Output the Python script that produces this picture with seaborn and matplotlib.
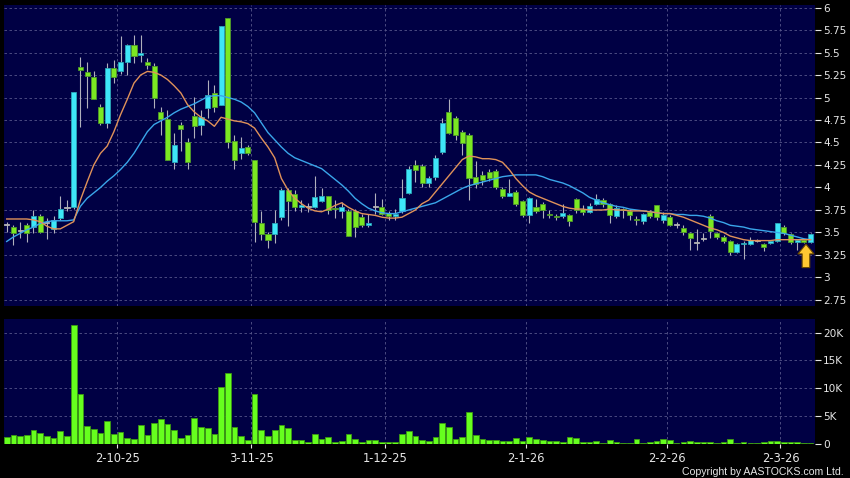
import numpy as np
import pandas as pd
import seaborn as sns
import matplotlib.pyplot as plt
from matplotlib.ticker import FixedLocator, NullLocator

# daily candles (bar index 0 = first session shown)
open_ = [3.58, 3.56, 3.52, 3.58, 3.56, 3.68, 3.60, 3.54, 3.66, 3.77,
         3.78, 5.34, 5.28, 5.23, 4.89, 4.72, 5.33, 5.29, 5.39, 5.58,
         5.47, 5.39, 5.35, 4.84, 4.76, 4.28, 4.69, 4.51, 4.79, 4.69,
         4.88, 5.05, 4.92, 5.88, 4.52, 4.38, 4.45, 4.31, 3.61, 3.48,
         3.48, 3.67, 3.97, 3.93, 3.78, 3.78, 3.78, 3.85, 3.90, 3.77,
         3.74, 3.74, 3.74, 3.67, 3.58, 3.78, 3.78, 3.72, 3.68, 3.74,
         3.94, 4.25, 4.24, 4.05, 4.12, 4.39, 4.84, 4.77, 4.62, 4.58,
         4.12, 4.14, 4.17, 4.18, 3.98, 3.91, 3.95, 3.85, 3.69, 3.78,
         3.82, 3.71, 3.68, 3.68, 3.69, 3.87, 3.76, 3.73, 3.82, 3.86,
         3.82, 3.68, 3.76, 3.74, 3.65, 3.63, 3.73, 3.80, 3.64, 3.67,
         3.58, 3.55, 3.49, 3.38, 3.43, 3.68, 3.49, 3.45, 3.41, 3.28,
         3.37, 3.37, 3.41, 3.37, 3.38, 3.40, 3.56, 3.48, 3.39, 3.42,
         3.39]
high = [3.62, 3.58, 3.62, 3.60, 3.75, 3.71, 3.66, 3.68, 3.90, 3.86,
        5.06, 5.45, 5.40, 5.29, 4.93, 5.38, 5.42, 5.68, 5.60, 5.70,
        5.70, 5.44, 5.38, 4.89, 4.86, 4.60, 4.73, 4.55, 5.01, 4.86,
        5.19, 5.14, 5.80, 5.88, 4.58, 4.56, 4.47, 4.31, 3.74, 3.50,
        3.75, 3.99, 3.99, 3.97, 3.86, 3.83, 4.13, 3.99, 3.91, 3.86,
        3.84, 3.76, 3.76, 3.71, 3.71, 3.94, 3.87, 3.74, 3.76, 4.09,
        4.24, 4.31, 4.26, 4.13, 4.36, 4.77, 4.98, 4.79, 4.64, 4.60,
        4.29, 4.18, 4.20, 4.20, 4.00, 4.09, 3.97, 3.86, 3.89, 3.87,
        3.84, 3.75, 3.70, 3.82, 3.71, 3.88, 3.80, 3.83, 3.93, 3.88,
        3.83, 3.80, 3.77, 3.76, 3.68, 3.72, 3.75, 3.81, 3.73, 3.69,
        3.62, 3.58, 3.50, 3.54, 3.49, 3.70, 3.50, 3.47, 3.42, 3.38,
        3.40, 3.45, 3.43, 3.38, 3.41, 3.61, 3.58, 3.49, 3.43, 3.43,
        3.49]
low = [3.50, 3.36, 3.44, 3.39, 3.49, 3.49, 3.43, 3.49, 3.64, 3.74,
       3.76, 4.67, 4.88, 4.98, 4.70, 4.66, 5.16, 5.26, 5.25, 5.38,
       5.40, 5.32, 4.88, 4.58, 4.30, 4.20, 4.40, 4.21, 4.55, 4.58,
       4.77, 4.84, 4.92, 4.44, 4.21, 4.32, 4.36, 3.39, 3.42, 3.33,
       3.38, 3.64, 3.57, 3.74, 3.73, 3.73, 3.77, 3.84, 3.71, 3.66,
       3.66, 3.46, 3.45, 3.56, 3.56, 3.71, 3.69, 3.64, 3.64, 3.72,
       3.93, 4.06, 4.01, 4.00, 4.08, 4.37, 4.59, 4.53, 4.36, 3.86,
       3.99, 4.03, 4.07, 3.98, 3.88, 3.90, 3.79, 3.67, 3.61, 3.72,
       3.66, 3.66, 3.64, 3.66, 3.57, 3.72, 3.69, 3.72, 3.81, 3.78,
       3.61, 3.66, 3.66, 3.64, 3.58, 3.59, 3.66, 3.64, 3.61, 3.57,
       3.55, 3.47, 3.31, 3.31, 3.41, 3.44, 3.43, 3.38, 3.25, 3.27,
       3.21, 3.36, 3.39, 3.29, 3.37, 3.39, 3.47, 3.37, 3.31, 3.38,
       3.38]
close = [3.58, 3.49, 3.52, 3.49, 3.68, 3.51, 3.60, 3.64, 3.76, 3.77,
         5.06, 5.31, 5.24, 4.98, 4.72, 5.33, 5.23, 5.40, 5.58, 5.46,
         5.49, 5.36, 4.99, 4.76, 4.30, 4.47, 4.65, 4.28, 4.68, 4.78,
         5.03, 4.89, 5.80, 4.51, 4.30, 4.44, 4.38, 3.62, 3.48, 3.42,
         3.60, 3.97, 3.85, 3.78, 3.81, 3.78, 3.89, 3.90, 3.75, 3.76,
         3.78, 3.46, 3.56, 3.58, 3.60, 3.78, 3.71, 3.68, 3.71, 3.88,
         4.21, 4.19, 4.05, 4.11, 4.33, 4.72, 4.61, 4.58, 4.49, 4.11,
         4.04, 4.08, 4.10, 4.00, 3.90, 3.94, 3.82, 3.69, 3.88, 3.74,
         3.75, 3.69, 3.67, 3.72, 3.63, 3.75, 3.73, 3.79, 3.87, 3.82,
         3.69, 3.77, 3.75, 3.69, 3.64, 3.71, 3.68, 3.67, 3.69, 3.58,
         3.58, 3.50, 3.44, 3.38, 3.43, 3.52, 3.45, 3.40, 3.28, 3.37,
         3.38, 3.42, 3.41, 3.34, 3.40, 3.60, 3.49, 3.39, 3.42, 3.39,
         3.48]
volume = [1200, 1560, 1380, 1500, 2460, 1860, 1380, 1020, 2220, 1380,
          21300, 8940, 3240, 2700, 1860, 4020, 1740, 2100, 1020, 840,
          3420, 1620, 3720, 4440, 3480, 2520, 960, 1500, 4620, 3000,
          2880, 1800, 10300, 12700, 2940, 1320, 660, 8940, 2400, 1380,
          2400, 3300, 2880, 660, 660, 360, 1680, 780, 1200, 240,
          540, 1680, 900, 240, 720, 600, 300, 360, 240, 1740,
          2280, 1380, 660, 540, 1200, 3720, 2940, 780, 1260, 5700,
          1500, 780, 720, 660, 480, 480, 1020, 540, 1200, 780,
          600, 480, 420, 300, 1140, 1080, 300, 300, 420, 180,
          600, 240, 120, 180, 900, 180, 360, 420, 780, 600,
          180, 300, 540, 240, 240, 240, 180, 240, 780, 120,
          300, 180, 180, 300, 420, 540, 300, 240, 240, 180,
          180]

# moving averages as drawn on the chart
ma_short = [3.65, 3.65, 3.65, 3.65, 3.64, 3.62, 3.57, 3.54, 3.54, 3.58,
            3.62, 3.86, 4.06, 4.25, 4.38, 4.46, 4.62, 4.81, 4.98, 5.16,
            5.25, 5.29, 5.28, 5.25, 5.20, 5.13, 5.05, 4.92, 4.84, 4.78,
            4.74, 4.68, 4.78, 4.76, 4.74, 4.73, 4.71, 4.66, 4.55, 4.45,
            4.33, 4.10, 3.97, 3.88, 3.82, 3.77, 3.74, 3.73, 3.76, 3.80,
            3.83, 3.78, 3.74, 3.71, 3.70, 3.69, 3.67, 3.66, 3.66, 3.67,
            3.71, 3.75, 3.82, 3.86, 3.95, 4.04, 4.13, 4.22, 4.31, 4.35,
            4.34, 4.32, 4.32, 4.31, 4.28, 4.20, 4.10, 4.02, 3.95, 3.91,
            3.88, 3.85, 3.82, 3.79, 3.77, 3.76, 3.76, 3.75, 3.75, 3.75,
            3.76, 3.75, 3.75, 3.74, 3.74, 3.74, 3.73, 3.72, 3.71, 3.71,
            3.69, 3.67, 3.64, 3.61, 3.58, 3.55, 3.53, 3.50, 3.46, 3.44,
            3.42, 3.41, 3.41, 3.41, 3.41, 3.42, 3.42, 3.42, 3.42, 3.42,
            3.42]
ma_long = [3.40, 3.45, 3.49, 3.53, 3.56, 3.60, 3.62, 3.63, 3.63, 3.63,
           3.64, 3.79, 3.88, 3.94, 4.00, 4.07, 4.13, 4.20, 4.28, 4.38,
           4.50, 4.62, 4.70, 4.74, 4.78, 4.83, 4.87, 4.90, 4.93, 4.97,
           5.01, 5.02, 5.02, 5.00, 4.98, 4.95, 4.90, 4.83, 4.72, 4.61,
           4.53, 4.45, 4.38, 4.33, 4.30, 4.27, 4.24, 4.21, 4.15, 4.09,
           4.03, 3.96, 3.88, 3.82, 3.77, 3.74, 3.72, 3.71, 3.71, 3.73,
           3.75, 3.77, 3.79, 3.81, 3.83, 3.87, 3.91, 3.95, 3.99, 4.02,
           4.04, 4.06, 4.08, 4.10, 4.12, 4.13, 4.14, 4.14, 4.14, 4.14,
           4.12, 4.09, 4.07, 4.05, 4.02, 3.98, 3.94, 3.89, 3.86, 3.83,
           3.81, 3.79, 3.78, 3.76, 3.75, 3.74, 3.73, 3.72, 3.71, 3.71,
           3.70, 3.70, 3.69, 3.69, 3.68, 3.66, 3.63, 3.61, 3.58, 3.57,
           3.56, 3.54, 3.53, 3.52, 3.51, 3.50, 3.49, 3.47, 3.45, 3.43,
           3.42]

date_pos = [16.5, 36.5, 56.5, 77.5, 98.5, 115.5]
date_labels = ["2-10-25", "3-11-25", "1-12-25", "2-1-26", "2-2-26", "2-3-26"]
price_ticks = [2.75, 3, 3.25, 3.5, 3.75, 4, 4.25, 4.5, 4.75, 5, 5.25, 5.5, 5.75, 6]
price_labels = ["2.75", "3", "3.25", "3.5", "3.75", "4", "4.25", "4.5", "4.75",
                "5", "5.25", "5.5", "5.75", "6"]
vol_ticks = [0, 5000, 10000, 15000, 20000]
vol_labels = ["0", "5K", "10K", "15K", "20K"]

df = pd.DataFrame({"idx": np.arange(len(close)), "open": open_, "high": high,
                   "low": low, "close": close, "volume": volume,
                   "ma_short": ma_short, "ma_long": ma_long})

plt.rcParams["font.family"] = ["DejaVu Sans"]
NAVY = "#000044"
GRID = "#56568a"
UP = "#3ee6f8"
DOWN = "#7be822"

fig = plt.figure(figsize=(8.5, 4.78), dpi=100, facecolor="black")
ax1 = fig.add_axes([4 / 850, 1 - 306 / 478, 811 / 850, 301 / 478])
ax2 = fig.add_axes([4 / 850, 1 - 444 / 478, 811 / 850, 125 / 478])

for ax in (ax1, ax2):
    ax.set_facecolor(NAVY)
    for s in ax.spines.values():
        s.set_visible(False)
    ax.set_axisbelow(True)

# --- price panel
ax1.vlines(df["idx"], df["low"], df["high"], color="#b0b0bc", lw=0.8, zorder=2)
body_lo = np.minimum(df["open"], df["close"])
body_h = np.maximum((df["close"] - df["open"]).abs(), 0.012)
flat = (df["close"] - df["open"]).abs() < 0.005
cols = np.where(flat, "#b4b4b4", np.where(df["close"] > df["open"], UP, DOWN))
edges = np.where(flat, "#b4b4b4", np.where(df["close"] > df["open"], "#2aa6b8", "#4f9a2a"))
ax1.bar(df["idx"], body_h, bottom=body_lo, width=0.76, color=cols,
        edgecolor=edges, linewidth=0.6, zorder=3)

sns.lineplot(data=df, x="idx", y="ma_long", color="#3aa6ea", lw=1.0, ax=ax1, zorder=4)
sns.lineplot(data=df, x="idx", y="ma_short", color="#e0925a", lw=1.0, ax=ax1, zorder=4)

ax1.annotate("", xy=(119.3, 3.37), xytext=(119.3, 3.11),
             arrowprops=dict(arrowstyle="simple,head_length=0.7,head_width=1.15,tail_width=0.55",
                             fc="#ffc832", ec="#6b4a00", lw=0.8, mutation_scale=10,
                             shrinkA=0, shrinkB=0), zorder=6)

ax1.set_xlim(-0.4, 120.65)
ax1.set_ylim(2.683, 6.028)
ax1.yaxis.tick_right()
ax1.yaxis.set_major_locator(FixedLocator(price_ticks))
ax1.set_yticklabels(price_labels)
ax1.xaxis.set_major_locator(FixedLocator(date_pos))
ax1.tick_params(axis="x", length=0, labelbottom=False)
ax1.tick_params(axis="y", colors="#e6e6e6", labelsize=7.6, length=4, width=0.8, pad=2)
ax1.grid(True, color=GRID, ls=(0, (3, 3)), lw=0.6)
ax1.set_xlabel("")
ax1.set_ylabel("")

# --- volume panel
sns.barplot(data=df, x="idx", y="volume", native_scale=True, width=0.85,
            color="#66ff1e", saturation=1, edgecolor="#3c9a12", linewidth=0.6,
            errorbar=None, ax=ax2, zorder=3)
ax2.set_xlim(-0.4, 120.65)
ax2.set_ylim(-50, 22450)
ax2.yaxis.tick_right()
ax2.yaxis.set_major_locator(FixedLocator(vol_ticks))
ax2.set_yticklabels(vol_labels)
ax2.xaxis.set_major_locator(FixedLocator(date_pos))
ax2.xaxis.set_minor_locator(NullLocator())
ax2.set_xticklabels(date_labels)
ax2.tick_params(axis="y", colors="#e6e6e6", labelsize=7.6, length=4, width=0.8, pad=2)
ax2.tick_params(axis="x", colors="#e6e6e6", labelsize=8.3, length=3, width=0.8, pad=3)
ax2.grid(True, color=GRID, ls=(0, (3, 3)), lw=0.6)
ax2.set_xlabel("")
ax2.set_ylabel("")

fig.text(844 / 850, 1 - 472 / 478, "Copyright by AASTOCKS.com Ltd.", ha="right",
         va="center", color="#e6e6e6", fontsize=7.6, family="Liberation Sans")

fig.savefig("out.png", dpi=100, facecolor="black")
